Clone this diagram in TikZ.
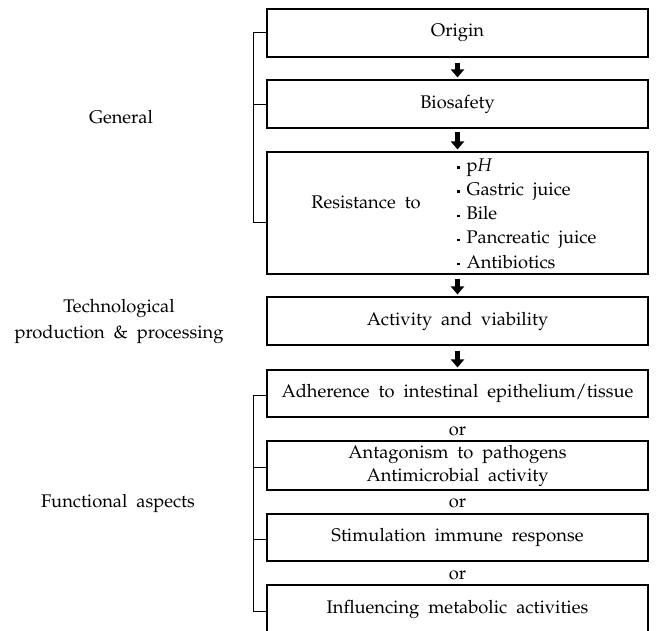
\documentclass[tikz,border=0pt]{standalone}
\usepackage[T1]{fontenc}
\usepackage{mathpazo}
\usetikzlibrary{arrows.meta,calc}
\newcommand\mywsp{\spaceskip=9pt plus 2pt minus 1pt\relax}
\newcommand\myfnt{\fontsize{18.3}{23}\selectfont\mywsp}
\newcommand\myfntb{\fontsize{18.3}{24.2}\selectfont\mywsp}
\newcommand\myfntc{\fontsize{18.3}{26}\selectfont\mywsp}
\newcommand\mydot{\raisebox{0.32ex}{\rule{2.4pt}{2.4pt}}\hspace{7pt}}
\tikzset{
  txt/.style={font=\myfnt, inner sep=0pt},
  box/.style={txt, draw, line width=1.1pt, minimum width=381pt, align=center},
  blockarrow/.style={line width=4.2pt, -{Triangle[width=13pt,length=8pt]}},
  brace/.style={line width=1pt},
}
\begin{document}
\begin{tikzpicture}[x=1pt,y=-1pt]
\clip (0,0) rectangle (656,631);
% flow boxes
\node[box, minimum height=48pt] (o) at (457.5,33) {Origin};
\node[box, minimum height=48pt] (b) at (457.5,104) {Biosafety};
\node[box, minimum height=122pt] (r) at (457.5,213) {};
\node[txt] (rt) at (366,202) {Resistance to};
\node[txt, anchor=west, align=left, font=\myfntb] (rl) at (457,213.5)
  {\mydot p\textit{H}\\ \mydot Gastric juice\\ \mydot Bile\\ \mydot Pancreatic juice\\ \mydot Antibiotics};
\node[box, minimum height=48pt] (a) at (457.5,321) {Activity and viability};
\node[box, minimum height=47pt] (f1) at (457.5,393.5) {Adherence to intestinal epithelium/tissue};
\node[box, minimum height=49pt] (f2) at (457.5,465.5) {Antagonism to pathogens\\Antimicrobial activity};
\node[box, minimum height=47pt] (f3) at (457.5,537.5) {Stimulation immune response};
\node[box, minimum height=48pt] (f4) at (457.5,609) {Influencing metabolic activities};
% arrows
\draw[blockarrow] ([yshift=-5pt]o.south) -- ([yshift=2pt]b.north);
\draw[blockarrow] ([yshift=-3pt]b.south) -- ([yshift=2pt]r.north);
\draw[blockarrow] ([yshift=-4pt]r.south) -- ([yshift=2pt]a.north);
\draw[blockarrow] ([yshift=-5pt]a.south) -- ([yshift=2pt]f1.north);
% or labels
\node[txt] (or1) at ($(f1.south)!0.5!(f2.north)+(0,2)$) {or};
\node[txt] (or2) at (457.5,503) {or};
\node[txt] (or3) at (457.5,575) {or};
% brackets
\coordinate (bx) at (253,0);
\draw[brace] (o.west) -- (o.west -| bx) |- ([yshift=-10pt]r.west);
\draw[brace] ([yshift=-1pt]b.west) -- ([yshift=-1pt]b.west -| bx);
\draw[brace] ([yshift=-1.5pt]f1.west) -- ([yshift=-1.5pt]f1.west -| bx) |- ([yshift=-2pt]f4.west);
\draw[brace] ([yshift=-1.5pt]f2.west) -- ([yshift=-1.5pt]f2.west -| bx);
\draw[brace] ([yshift=-1.5pt]f3.west) -- ([yshift=-1.5pt]f3.west -| bx);
% side labels
\node[txt] (g) at (121,117) {General};
\node[txt, align=center, font=\myfntc] (t) at (119,321) {Technological\\production \& processing};
\node[txt] (fa) at (118,503) {Functional aspects};
\end{tikzpicture}
\end{document}
